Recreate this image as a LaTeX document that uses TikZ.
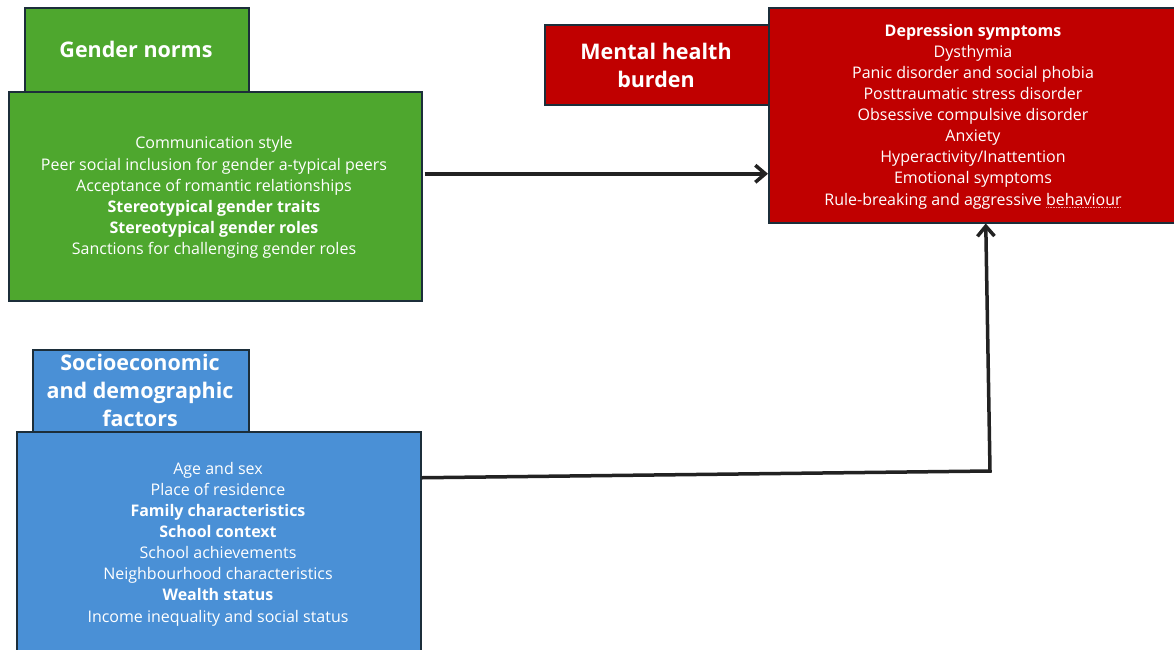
\documentclass[tikz,border=0pt]{standalone}
\usepackage{fontspec}
\setmainfont{Open Sans}
\usetikzlibrary{arrows.meta}
\definecolor{gnorm}{HTML}{4EA72E}
\definecolor{bsoc}{HTML}{4A90D6}
\definecolor{rmen}{HTML}{C00000}
\definecolor{edge}{HTML}{1C2E3A}
\definecolor{arr}{HTML}{222222}
\definecolor{spell}{HTML}{F0A0A0}
\newcommand\mydotul[1]{\setbox0\hbox{#1}\rlap{\raisebox{-3pt}{\textcolor{spell}{\hbox to \wd0{\leaders\hbox to 1.6pt{\hss\rule{0.9pt}{0.7pt}\hss}\hfill}}}}#1}
\tikzset{
  box/.style={draw=edge, line width=1.5pt, inner sep=0pt, anchor=north west},
  titletext/.style={text=white, align=center, font=\fontsize{21.5}{28}\selectfont\bfseries, inner sep=0pt},
  bodytext/.style={text=white, align=center, font=\fontsize{16}{21.1}\selectfont, inner sep=0pt},
  link/.style={draw=arr, line width=3.5pt, -{Straight Barb[length=10pt,width=17pt,line width=3.5pt]}, line join=miter}
}
\begin{document}
\begin{tikzpicture}[x=1pt,y=-1pt]
\clip (0,0) rectangle (1174,649);
\fill[white] (0,0) rectangle (1174,649);
% title boxes
\node[box, fill=gnorm, minimum width=224pt, minimum height=90pt] (gtitle) at (24,7) {};
\node[box, fill=bsoc, minimum width=216pt, minimum height=90pt] (btitle) at (32,349) {};
\node[box, fill=rmen, minimum width=230pt, minimum height=80pt] (rtitle) at (544,24) {};
% main boxes
\node[box, fill=gnorm, minimum width=413pt, minimum height=209pt] (gbody) at (8,91) {};
\node[box, fill=bsoc, minimum width=404pt, minimum height=240pt] (bbody) at (16,431) {};
\node[box, fill=rmen, minimum width=406pt, minimum height=215pt] (rbody) at (768,7) {};
% titles
\node[titletext] (gtt) at (136,49) {Gender norms};
\node[titletext] (btt) at (140,390) {Socioeconomic\\and demographic\\factors};
\node[titletext] (rtt) at (656,65) {Mental health\\burden};
% body texts
\node[bodytext] (gbt) at (214,197.5) {Communication style\\Peer social inclusion for gender a-typical peers\\Acceptance of romantic relationships\\\textbf{Stereotypical gender traits}\\\textbf{Stereotypical gender roles}\\Sanctions for challenging gender roles};
\node[bodytext] (bbt) at (218,544) {Age and sex\\Place of residence\\\textbf{Family characteristics}\\\textbf{School context}\\School achievements\\Neighbourhood characteristics\\\textbf{Wealth status}\\Income inequality and social status};
\node[bodytext] (rbt) at (973,116.5) {\textbf{Depression symptoms}\\Dysthymia\\Panic disorder and social phobia\\Posttraumatic stress disorder\\Obsessive compulsive disorder\\Anxiety\\Hyperactivity/Inattention\\Emotional symptoms\\Rule-breaking and aggressive \mydotul{behaviour}};
% connectors
\coordinate (elbow) at (990,471);
\draw[link] ([xshift=2pt,yshift=22.5pt]gbody.east) -- ([yshift=-58.5pt]rbody.west);
\draw[link] ([yshift=74pt]bbody.east) -- (elbow) -- ([xshift=14pt]rbody.south);
\end{tikzpicture}
\end{document}
